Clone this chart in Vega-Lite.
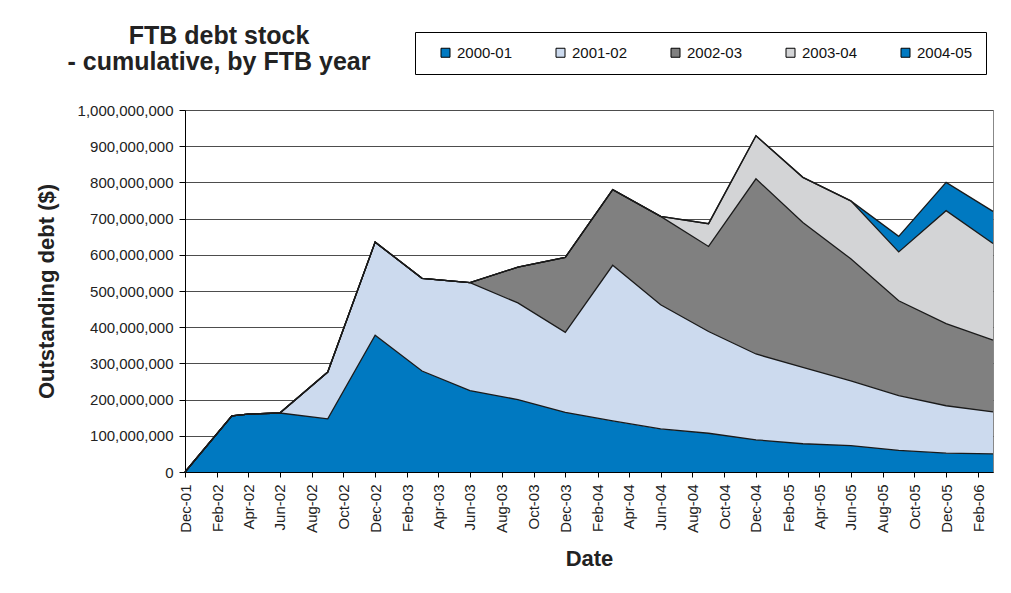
{
  "$schema": "https://vega.github.io/schema/vega-lite/v6.json",
  "width": 808,
  "height": 362,
  "autosize": {"type": "none"},
  "padding": {"left": 185, "top": 110, "right": 18, "bottom": 121},
  "background": "white",
  "title": {
    "text": ["FTB debt stock", "- cumulative, by FTB year"],
    "anchor": "start",
    "frame": "group",
    "align": "center",
    "baseline": "top",
    "dx": 34,
    "dy": 43,
    "offset": 0,
    "fontSize": 25,
    "lineHeight": 26,
    "fontWeight": "bold",
    "font": "Liberation Sans",
    "color": "#222222"
  },
  "data": {
    "values": [
      {"series": "2000-01", "date": "2001-12-01", "debt": 0},
      {"series": "2000-01", "date": "2002-03-01", "debt": 155000000},
      {"series": "2000-01", "date": "2002-04-01", "debt": 160000000},
      {"series": "2000-01", "date": "2002-06-01", "debt": 163000000},
      {"series": "2000-01", "date": "2002-09-01", "debt": 147000000},
      {"series": "2000-01", "date": "2002-12-01", "debt": 378000000},
      {"series": "2000-01", "date": "2003-03-01", "debt": 279000000},
      {"series": "2000-01", "date": "2003-06-01", "debt": 225000000},
      {"series": "2000-01", "date": "2003-09-01", "debt": 200000000},
      {"series": "2000-01", "date": "2003-12-01", "debt": 165000000},
      {"series": "2000-01", "date": "2004-03-01", "debt": 141000000},
      {"series": "2000-01", "date": "2004-06-01", "debt": 119000000},
      {"series": "2000-01", "date": "2004-09-01", "debt": 107000000},
      {"series": "2000-01", "date": "2004-12-01", "debt": 89000000},
      {"series": "2000-01", "date": "2005-03-01", "debt": 78000000},
      {"series": "2000-01", "date": "2005-06-01", "debt": 73000000},
      {"series": "2000-01", "date": "2005-09-01", "debt": 60000000},
      {"series": "2000-01", "date": "2005-12-01", "debt": 52000000},
      {"series": "2000-01", "date": "2006-03-01", "debt": 50000000},
      {"series": "2001-02", "date": "2002-06-01", "debt": 0},
      {"series": "2001-02", "date": "2002-09-01", "debt": 129000000},
      {"series": "2001-02", "date": "2002-12-01", "debt": 257000000},
      {"series": "2001-02", "date": "2003-03-01", "debt": 256000000},
      {"series": "2001-02", "date": "2003-06-01", "debt": 298000000},
      {"series": "2001-02", "date": "2003-09-01", "debt": 267000000},
      {"series": "2001-02", "date": "2003-12-01", "debt": 221000000},
      {"series": "2001-02", "date": "2004-03-01", "debt": 430000000},
      {"series": "2001-02", "date": "2004-06-01", "debt": 343000000},
      {"series": "2001-02", "date": "2004-09-01", "debt": 281000000},
      {"series": "2001-02", "date": "2004-12-01", "debt": 237000000},
      {"series": "2001-02", "date": "2005-03-01", "debt": 211000000},
      {"series": "2001-02", "date": "2005-06-01", "debt": 179000000},
      {"series": "2001-02", "date": "2005-09-01", "debt": 151000000},
      {"series": "2001-02", "date": "2005-12-01", "debt": 131000000},
      {"series": "2001-02", "date": "2006-03-01", "debt": 116000000},
      {"series": "2002-03", "date": "2003-06-01", "debt": 0},
      {"series": "2002-03", "date": "2003-09-01", "debt": 99000000},
      {"series": "2002-03", "date": "2003-12-01", "debt": 207000000},
      {"series": "2002-03", "date": "2004-03-01", "debt": 209000000},
      {"series": "2002-03", "date": "2004-06-01", "debt": 244000000},
      {"series": "2002-03", "date": "2004-09-01", "debt": 235000000},
      {"series": "2002-03", "date": "2004-12-01", "debt": 484000000},
      {"series": "2002-03", "date": "2005-03-01", "debt": 400000000},
      {"series": "2002-03", "date": "2005-06-01", "debt": 337000000},
      {"series": "2002-03", "date": "2005-09-01", "debt": 262000000},
      {"series": "2002-03", "date": "2005-12-01", "debt": 227000000},
      {"series": "2002-03", "date": "2006-03-01", "debt": 198000000},
      {"series": "2003-04", "date": "2004-06-01", "debt": 0},
      {"series": "2003-04", "date": "2004-09-01", "debt": 63000000},
      {"series": "2003-04", "date": "2004-12-01", "debt": 119000000},
      {"series": "2003-04", "date": "2005-03-01", "debt": 125000000},
      {"series": "2003-04", "date": "2005-06-01", "debt": 160000000},
      {"series": "2003-04", "date": "2005-09-01", "debt": 135000000},
      {"series": "2003-04", "date": "2005-12-01", "debt": 312000000},
      {"series": "2003-04", "date": "2006-03-01", "debt": 267000000},
      {"series": "2004-05", "date": "2005-06-01", "debt": 0},
      {"series": "2004-05", "date": "2005-09-01", "debt": 43000000},
      {"series": "2004-05", "date": "2005-12-01", "debt": 78000000},
      {"series": "2004-05", "date": "2006-03-01", "debt": 89000000}
    ]
  },
  "encoding": {
    "x": {
      "field": "date",
      "type": "temporal",
      "scale": {
        "type": "utc",
        "domain": [
          {"year": 2001, "month": 12, "date": 1, "utc": true},
          {"year": 2006, "month": 3, "date": 1, "utc": true}
        ]
      },
      "axis": {
        "values": [
          {"year": 2001, "month": 12, "date": 1, "utc": true},
          {"year": 2002, "month": 2, "date": 1, "utc": true},
          {"year": 2002, "month": 4, "date": 1, "utc": true},
          {"year": 2002, "month": 6, "date": 1, "utc": true},
          {"year": 2002, "month": 8, "date": 1, "utc": true},
          {"year": 2002, "month": 10, "date": 1, "utc": true},
          {"year": 2002, "month": 12, "date": 1, "utc": true},
          {"year": 2003, "month": 2, "date": 1, "utc": true},
          {"year": 2003, "month": 4, "date": 1, "utc": true},
          {"year": 2003, "month": 6, "date": 1, "utc": true},
          {"year": 2003, "month": 8, "date": 1, "utc": true},
          {"year": 2003, "month": 10, "date": 1, "utc": true},
          {"year": 2003, "month": 12, "date": 1, "utc": true},
          {"year": 2004, "month": 2, "date": 1, "utc": true},
          {"year": 2004, "month": 4, "date": 1, "utc": true},
          {"year": 2004, "month": 6, "date": 1, "utc": true},
          {"year": 2004, "month": 8, "date": 1, "utc": true},
          {"year": 2004, "month": 10, "date": 1, "utc": true},
          {"year": 2004, "month": 12, "date": 1, "utc": true},
          {"year": 2005, "month": 2, "date": 1, "utc": true},
          {"year": 2005, "month": 4, "date": 1, "utc": true},
          {"year": 2005, "month": 6, "date": 1, "utc": true},
          {"year": 2005, "month": 8, "date": 1, "utc": true},
          {"year": 2005, "month": 10, "date": 1, "utc": true},
          {"year": 2005, "month": 12, "date": 1, "utc": true},
          {"year": 2006, "month": 2, "date": 1, "utc": true}
        ],
        "labelExpr": "utcFormat(datum.value, '%b-%y')",
        "labelAngle": 270,
        "labelAlign": "right",
        "labelBaseline": "middle",
        "labelFlush": false,
        "labelOverlap": false,
        "labelFontSize": 15,
        "labelFont": "Liberation Sans",
        "labelColor": "#222222",
        "labelPadding": 7,
        "tickSize": 5,
        "tickColor": "#000000",
        "domainColor": "#000000",
        "grid": false,
        "title": "Date",
        "titleFont": "Liberation Sans",
        "titleFontSize": 22,
        "titleFontWeight": "bold",
        "titleColor": "#222222",
        "titleY": 93,
        "titleBaseline": "alphabetic"
      }
    },
    "y": {
      "field": "debt",
      "type": "quantitative",
      "stack": "zero",
      "scale": {"domain": [0, 1000000000], "nice": false},
      "axis": {
        "values": [0, 100000000, 200000000, 300000000, 400000000, 500000000, 600000000, 700000000, 800000000, 900000000, 1000000000],
        "format": ",d",
        "labelFontSize": 15,
        "labelFont": "Liberation Sans",
        "labelColor": "#222222",
        "labelPadding": 6,
        "labelOverlap": false,
        "tickSize": 6,
        "tickColor": "#000000",
        "domainColor": "#000000",
        "grid": true,
        "gridColor": "#4d4d4d",
        "gridWidth": 1,
        "title": "Outstanding debt ($)",
        "titleFont": "Liberation Sans",
        "titleFontSize": 22,
        "titleFontWeight": "bold",
        "titleColor": "#222222",
        "titleAngle": 270,
        "titleX": -132,
        "titleY": 181,
        "titleAlign": "center",
        "titleBaseline": "alphabetic"
      }
    },
    "order": {"field": "series", "type": "ordinal", "sort": "ascending"}
  },
  "layer": [
    {
      "mark": {"type": "area", "opacity": 1},
      "encoding": {
        "color": {
          "field": "series",
          "type": "nominal",
          "scale": {
            "domain": ["2000-01", "2001-02", "2002-03", "2003-04", "2004-05"],
            "range": ["#0079c1", "#ccdaee", "#808080", "#d3d4d6", "#0079c1"]
          },
          "legend": {
            "orient": "none",
            "legendX": 230,
            "legendY": -78,
            "direction": "horizontal",
            "columns": 5,
            "padding": 13,
            "strokeColor": "#000000",
            "fillColor": "#ffffff",
            "symbolType": "square",
            "symbolSize": 81,
            "symbolStrokeColor": "#000000",
            "symbolStrokeWidth": 1,
            "symbolOpacity": 1,
            "labelFontSize": 15,
            "labelFont": "Liberation Sans",
            "labelColor": "#111111",
            "labelOffset": 4,
            "columnPadding": 40,
            "title": " ",
            "titleOrient": "left",
            "titlePadding": 10
          }
        }
      }
    },
    {
      "mark": {"type": "line", "color": "#1a1a1a", "strokeWidth": 1.3},
      "encoding": {
        "detail": {"field": "series", "type": "nominal"}
      }
    }
  ],
  "config": {
    "view": {"stroke": "#888888", "strokeWidth": 1},
    "font": "Liberation Sans"
  }
}
